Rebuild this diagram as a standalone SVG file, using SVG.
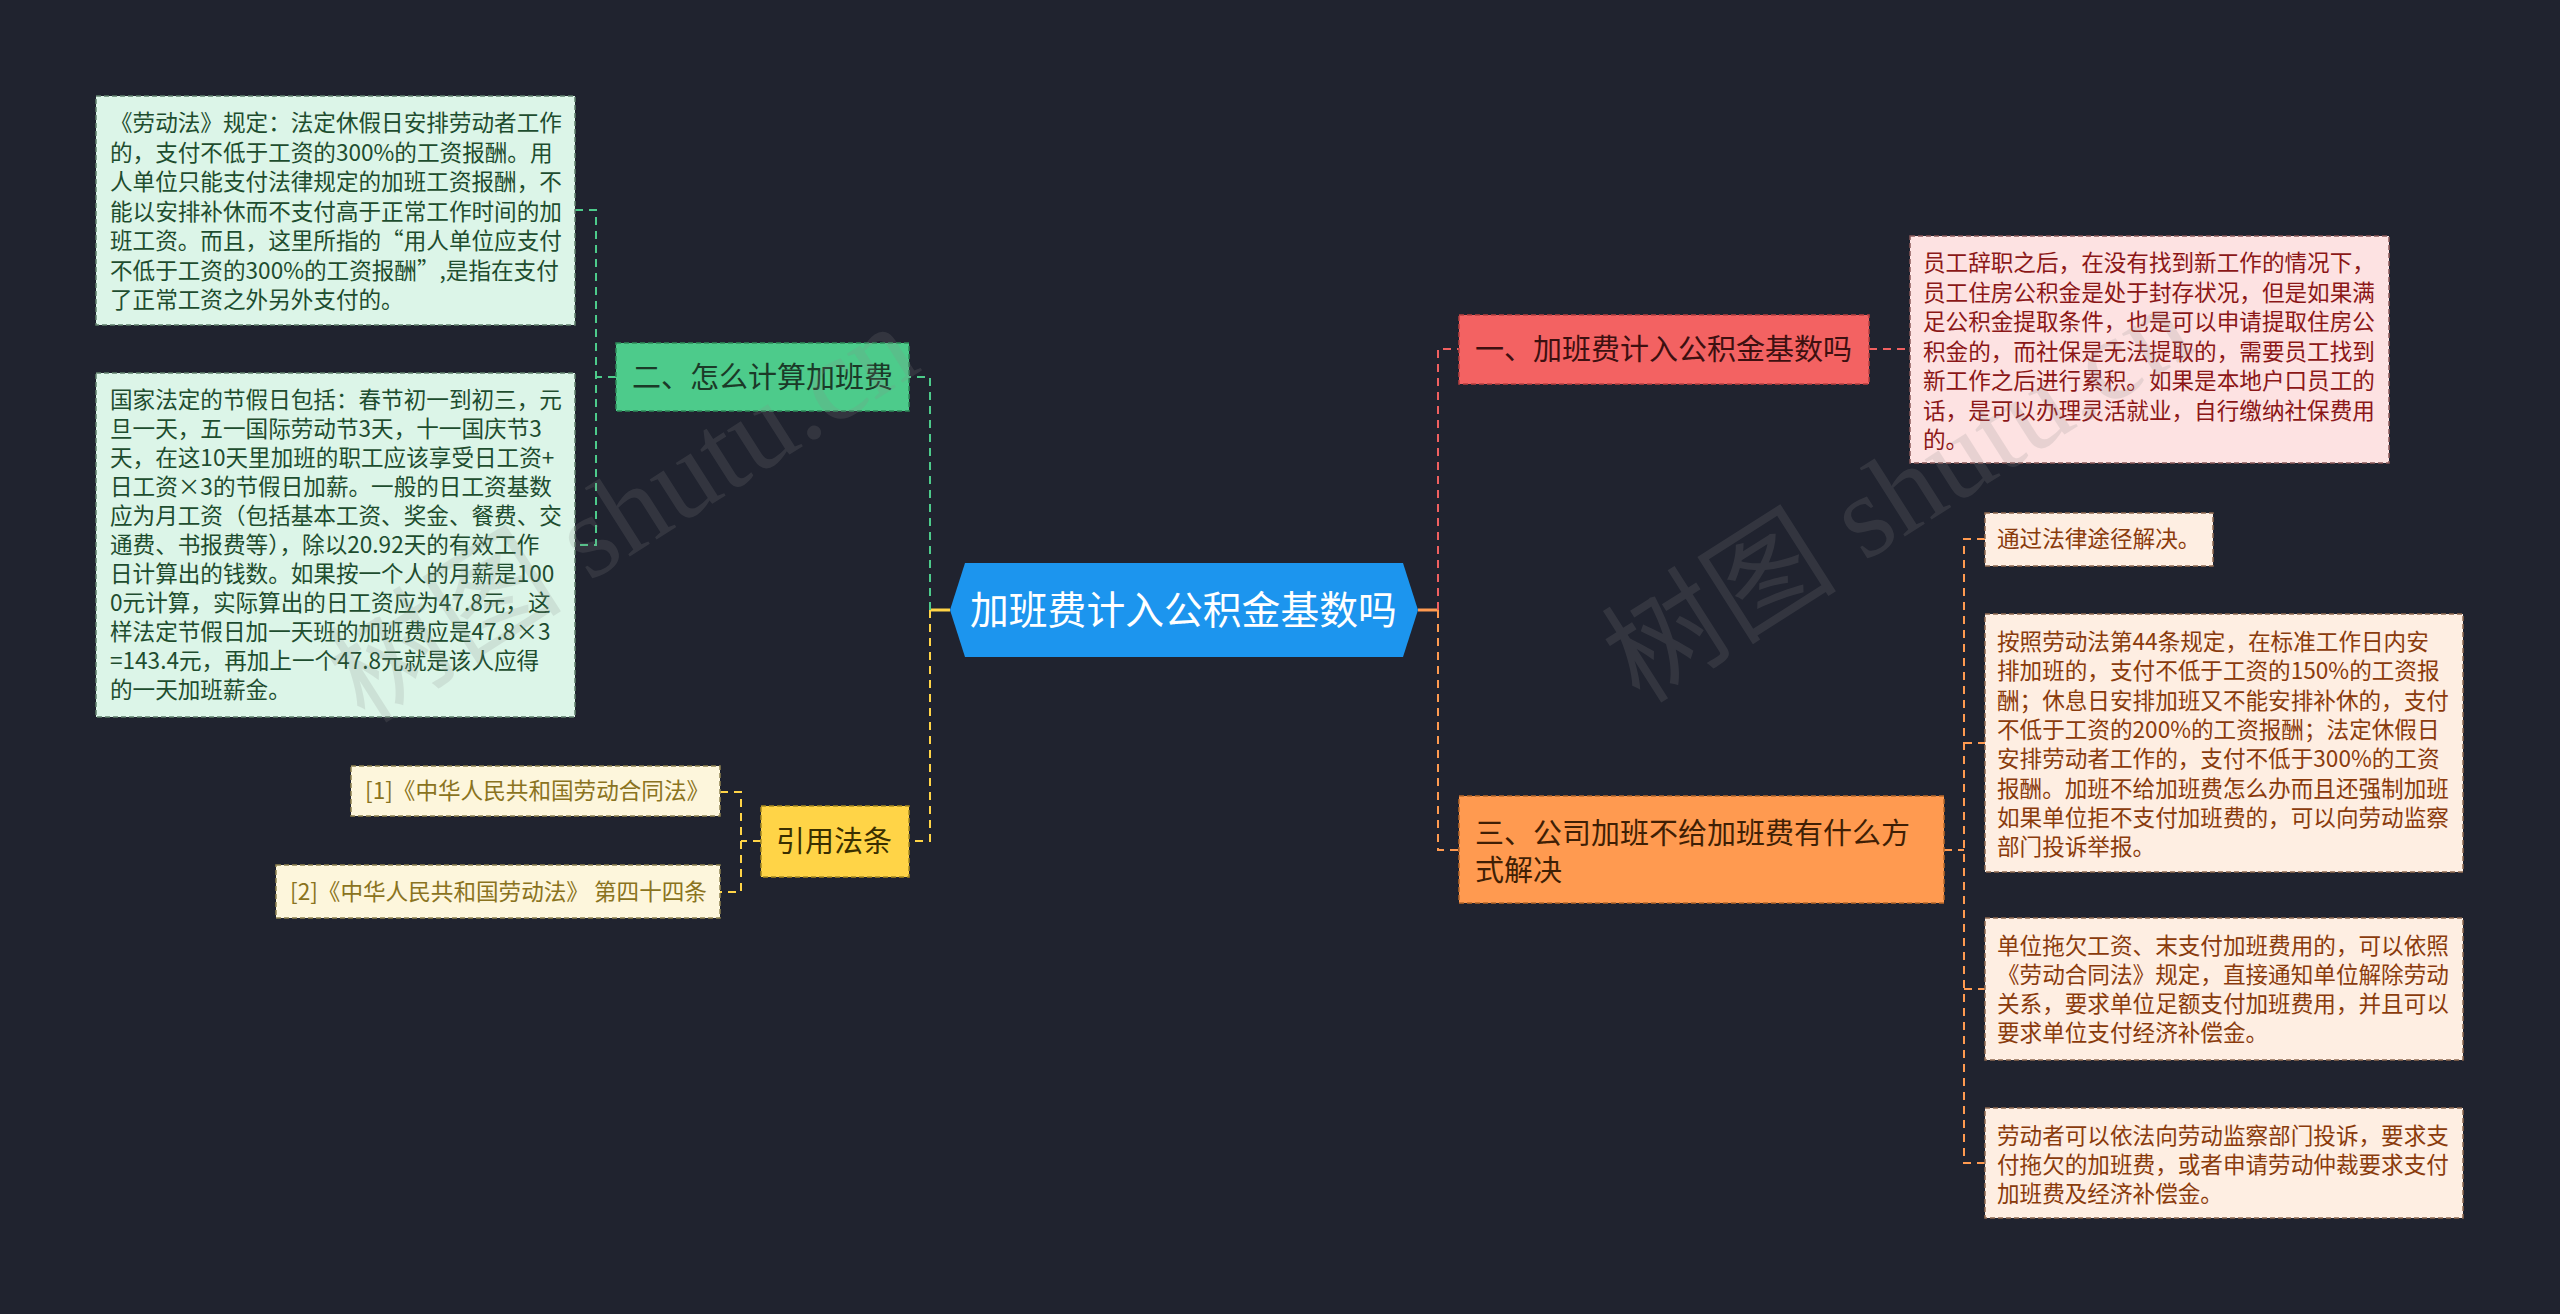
<svg xmlns="http://www.w3.org/2000/svg" width="2560" height="1314" viewBox="0 0 2560 1314">
<defs>
<style>
text{font-family:"Noto Sans CJK SC","Liberation Sans",sans-serif;}
.bg{fill:#20232f;}
.conn{fill:none;stroke-width:2;stroke-dasharray:8 6;}
.solid{fill:none;stroke-width:3;}
.cg{stroke:#4dcb8b;}
.cy{stroke:#ffd447;}
.cr{stroke:#f06060;}
.co{stroke:#ff9a50;}
.nb{stroke-width:1.5;stroke-dasharray:5 3;}
.gnode{fill:#4dcb8b;stroke:#2e8a5a;}
.gbox{fill:#dcf5e8;stroke:#5f7f6c;}
.rnode{fill:#f36262;stroke:#b84040;}
.rbox{fill:#fde2e2;stroke:#8a5a5a;}
.onode{fill:#ff9a50;stroke:#b8682a;}
.obox{fill:#feeee2;stroke:#8f6a50;}
.ynode{fill:#ffd447;stroke:#a88a20;}
.ybox{fill:#fdf6dc;stroke:#8f8350;}
.t22{font-size:22.6px;}
.t29{font-size:29px;}
.gt{fill:#1e4d2f;}
.gnt{fill:#1b3a28;}
.rt{fill:#8b1717;}
.rnt{fill:#3d1010;}
.ot{fill:#8a3b0c;}
.ont{fill:#3f1f05;}
.yt{fill:#8a7320;}
.ynt{fill:#3a2f00;}
.wm{font-family:"Liberation Serif","Noto Sans CJK SC",serif;font-size:118px;fill:#8a8a8a;opacity:0.18;}
</style>
</defs>
<rect class="bg" x="0" y="0" width="2560" height="1314"/>

<g id="connectors">
  <path class="solid cy" d="M950,610 L930,610"/>
  <path class="solid co" d="M1418,610 L1438,610"/>
  <path class="conn cg" d="M930,610 L930,377 L909,377"/>
  <path class="conn cy" d="M930,610 L930,841 L909,841"/>
  <path class="conn cr" d="M1438,610 L1438,349 L1459,349"/>
  <path class="conn co" d="M1438,610 L1438,850 L1459,850"/>
  <path class="conn cg" d="M616,377 L596,377"/>
  <path class="conn cg" d="M575,210 L596,210 L596,545 L575,545"/>
  <path class="conn cy" d="M761,841 L741,841"/>
  <path class="conn cy" d="M720,792 L741,792 L741,892 L720,892"/>
  <path class="conn cr" d="M1869,349 L1910,349"/>
  <path class="conn co" d="M1944,850 L1964,850"/>
  <path class="conn co" d="M1985,539 L1964,539 L1964,1163 L1985,1163"/>
  <path class="conn co" d="M1964,743 L1985,743"/>
  <path class="conn co" d="M1964,989 L1985,989"/>
</g>

<g id="center">
  <path d="M950,610 L965,563 L1403,563 L1418,610 L1403,657 L965,657 Z" fill="#1c95ee"/>
  <text x="970" y="624" style="font-size:38.8px" fill="#ffffff">加班费计入公积金基数吗</text>
</g>

<g id="n-calc">
  <rect class="gnode nb" x="616" y="343" width="293" height="68"/>
  <text class="t29 gnt" x="632" y="388">二、怎么计算加班费</text>
</g>

<g id="n-calc-1">
  <rect class="gbox nb" x="96" y="96" width="479" height="229"/>
  <text class="t22 gt">
    <tspan x="110" y="131">《劳动法》规定：法定休假日安排劳动者工作</tspan>
    <tspan x="110" y="160.5">的，支付不低于工资的300%的工资报酬。用</tspan>
    <tspan x="110" y="190">人单位只能支付法律规定的加班工资报酬，不</tspan>
    <tspan x="110" y="219.5">能以安排补休而不支付高于正常工作时间的加</tspan>
    <tspan x="110" y="249">班工资。而且，这里所指的“用人单位应支付</tspan>
    <tspan x="110" y="278.5">不低于工资的300%的工资报酬”,是指在支付</tspan>
    <tspan x="110" y="308">了正常工资之外另外支付的。</tspan>
  </text>
</g>

<g id="n-calc-2">
  <rect class="gbox nb" x="96" y="373" width="479" height="344"/>
  <text class="t22 gt">
    <tspan x="110" y="408">国家法定的节假日包括：春节初一到初三，元</tspan>
    <tspan x="110" y="437">旦一天，五一国际劳动节3天，十一国庆节3</tspan>
    <tspan x="110" y="466">天，在这10天里加班的职工应该享受日工资+</tspan>
    <tspan x="110" y="495">日工资×3的节假日加薪。一般的日工资基数</tspan>
    <tspan x="110" y="524">应为月工资（包括基本工资、奖金、餐费、交</tspan>
    <tspan x="110" y="553">通费、书报费等），除以20.92天的有效工作</tspan>
    <tspan x="110" y="582">日计算出的钱数。如果按一个人的月薪是100</tspan>
    <tspan x="110" y="611">0元计算，实际算出的日工资应为47.8元，这</tspan>
    <tspan x="110" y="640">样法定节假日加一天班的加班费应是47.8×3</tspan>
    <tspan x="110" y="669">=143.4元，再加上一个47.8元就是该人应得</tspan>
    <tspan x="110" y="698">的一天加班薪金。</tspan>
  </text>
</g>

<g id="n-cite">
  <rect class="ynode nb" x="761" y="806" width="148" height="71"/>
  <text class="t29 ynt" x="776" y="851.5">引用法条</text>
</g>

<g id="n-cite-1">
  <rect class="ybox nb" x="351" y="766" width="369" height="50"/>
  <text class="t22 yt" x="365" y="799">[1]《中华人民共和国劳动合同法》</text>
</g>

<g id="n-cite-2">
  <rect class="ybox nb" x="276" y="865" width="444" height="53"/>
  <text class="t22 yt" x="290" y="900">[2]《中华人民共和国劳动法》 第四十四条</text>
</g>

<g id="n-base">
  <rect class="rnode nb" x="1459" y="315" width="410" height="69"/>
  <text class="t29 rnt" x="1475" y="360">一、加班费计入公积金基数吗</text>
</g>

<g id="n-base-1">
  <rect class="rbox nb" x="1910" y="236" width="479" height="227"/>
  <text class="t22 rt">
    <tspan x="1923" y="271">员工辞职之后，在没有找到新工作的情况下，</tspan>
    <tspan x="1923" y="300.5">员工住房公积金是处于封存状况，但是如果满</tspan>
    <tspan x="1923" y="330">足公积金提取条件，也是可以申请提取住房公</tspan>
    <tspan x="1923" y="359.5">积金的，而社保是无法提取的，需要员工找到</tspan>
    <tspan x="1923" y="389">新工作之后进行累积。如果是本地户口员工的</tspan>
    <tspan x="1923" y="418.5">话，是可以办理灵活就业，自行缴纳社保费用</tspan>
    <tspan x="1923" y="448">的。</tspan>
  </text>
</g>

<g id="n-solve">
  <rect class="onode nb" x="1459" y="796" width="485" height="107"/>
  <text class="t29 ont">
    <tspan x="1475" y="843.5">三、公司加班不给加班费有什么方</tspan>
    <tspan x="1475" y="880.5">式解决</tspan>
  </text>
</g>

<g id="n-solve-1">
  <rect class="obox nb" x="1985" y="513" width="228" height="53"/>
  <text class="t22 ot" x="1997" y="547">通过法律途径解决。</text>
</g>

<g id="n-solve-2">
  <rect class="obox nb" x="1985" y="614" width="478" height="258"/>
  <text class="t22 ot">
    <tspan x="1997" y="650">按照劳动法第44条规定，在标准工作日内安</tspan>
    <tspan x="1997" y="679.3">排加班的，支付不低于工资的150%的工资报</tspan>
    <tspan x="1997" y="708.6">酬；休息日安排加班又不能安排补休的，支付</tspan>
    <tspan x="1997" y="737.9">不低于工资的200%的工资报酬；法定休假日</tspan>
    <tspan x="1997" y="767.2">安排劳动者工作的，支付不低于300%的工资</tspan>
    <tspan x="1997" y="796.5">报酬。加班不给加班费怎么办而且还强制加班</tspan>
    <tspan x="1997" y="825.8">如果单位拒不支付加班费的，可以向劳动监察</tspan>
    <tspan x="1997" y="855.1">部门投诉举报。</tspan>
  </text>
</g>

<g id="n-solve-3">
  <rect class="obox nb" x="1985" y="918" width="478" height="142"/>
  <text class="t22 ot">
    <tspan x="1997" y="954">单位拖欠工资、末支付加班费用的，可以依照</tspan>
    <tspan x="1997" y="983">《劳动合同法》规定，直接通知单位解除劳动</tspan>
    <tspan x="1997" y="1012">关系，要求单位足额支付加班费用，并且可以</tspan>
    <tspan x="1997" y="1041">要求单位支付经济补偿金。</tspan>
  </text>
</g>

<g id="n-solve-4">
  <rect class="obox nb" x="1985" y="1108" width="478" height="110"/>
  <text class="t22 ot">
    <tspan x="1997" y="1144">劳动者可以依法向劳动监察部门投诉，要求支</tspan>
    <tspan x="1997" y="1173">付拖欠的加班费，或者申请劳动仲裁要求支付</tspan>
    <tspan x="1997" y="1202">加班费及经济补偿金。</tspan>
  </text>
</g>

<g id="watermark">
  <text class="wm" transform="translate(365,725) rotate(-32.5)">树图 shutu.cn</text>
  <text class="wm" transform="translate(1640,705) rotate(-32.5)">树图 shutu.cn</text>
</g>
</svg>
